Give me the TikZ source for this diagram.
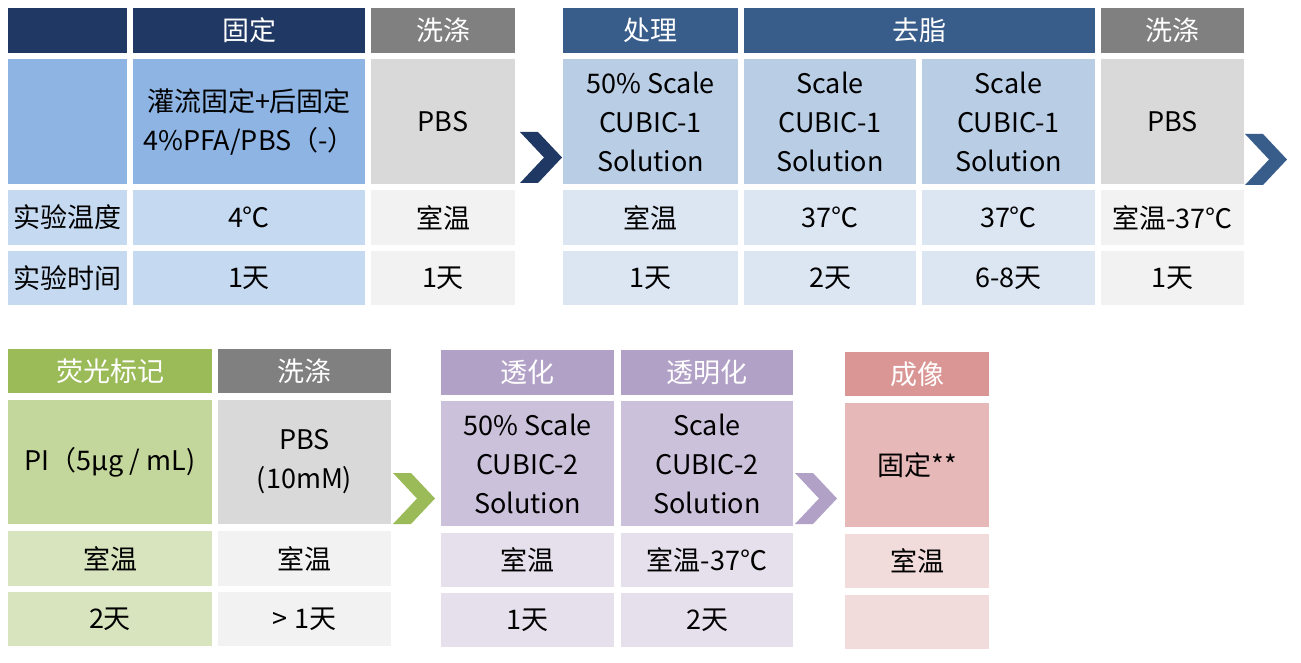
\documentclass[tikz,border=0pt]{standalone}
\usepackage{fontspec}
\setmainfont{Noto Sans CJK SC}
\definecolor{navy}{HTML}{1F3864}
\definecolor{hgray}{HTML}{808080}
\definecolor{bmid}{HTML}{8EB4E3}
\definecolor{blight}{HTML}{C5D9F1}
\definecolor{gmid}{HTML}{D9D9D9}
\definecolor{glight}{HTML}{F2F2F2}
\definecolor{steel}{HTML}{385D8A}
\definecolor{smid}{HTML}{B9CDE5}
\definecolor{slight}{HTML}{DCE6F2}
\definecolor{green}{HTML}{9BBB59}
\definecolor{grmid}{HTML}{C3D69B}
\definecolor{grlight}{HTML}{D7E4BD}
\definecolor{purp}{HTML}{B2A1C7}
\definecolor{pmid}{HTML}{CCC1DA}
\definecolor{plight}{HTML}{E6E0EC}
\definecolor{pink}{HTML}{D99694}
\definecolor{pkmid}{HTML}{E6B9B8}
\definecolor{pklight}{HTML}{F2DCDB}
\newcommand\mkcell[8]{\node[#7,fill=#6,minimum width={#4-#2},minimum height={#5-#3}] (#1) at ({(#2+#4)/2},{(#3+#5)/2}) {#8};}
\newcommand\mkchev[3]{\fill[#3] (#1,#2) -- ({#1+18},#2) -- ({#1+42},{#2+25.5}) -- ({#1+18},{#2+51}) -- (#1,{#2+51}) -- ({#1+24},{#2+25.5}) -- cycle;}
\tikzset{
  cellbox/.style={inner sep=0pt,outer sep=0pt,draw=none,align=center,text=black,font=\fontsize{27}{39}\selectfont},
  headbox/.style={cellbox,text=white}
}
\begin{document}
\begin{tikzpicture}[x=1pt,y=-1pt]
\useasboundingbox[fill=white] (0,0) rectangle (1301,663);
% ---- block 1 ----
\mkcell{h0}{8}{8}{127}{53}{navy}{headbox}{}
\mkcell{h1}{133}{8}{365}{53}{navy}{headbox}{固定}
\mkcell{h2}{371}{8}{515}{53}{hgray}{headbox}{洗涤}
\mkcell{m0}{8}{59}{127}{184}{bmid}{cellbox}{}
\mkcell{m1}{133}{59}{365}{184}{bmid}{cellbox}{灌流固定+后固定\\4\%PFA/PBS（-）}
\mkcell{m2}{371}{59}{515}{184}{gmid}{cellbox}{PBS}
\mkcell{t0}{8}{190}{127}{245}{blight}{cellbox}{实验温度}
\mkcell{t1}{133}{190}{365}{245}{blight}{cellbox}{4℃}
\mkcell{t2}{371}{190}{515}{245}{glight}{cellbox}{室温}
\mkcell{d0}{8}{251}{127}{305}{blight}{cellbox}{实验时间}
\mkcell{d1}{133}{251}{365}{305}{blight}{cellbox}{1天}
\mkcell{d2}{371}{251}{515}{305}{glight}{cellbox}{1天}
\mkchev{520}{132}{navy}
% ---- block 2 ----
\mkcell{h3}{563}{8}{738}{53}{steel}{headbox}{处理}
\mkcell{h4}{744}{8}{1095}{53}{steel}{headbox}{去脂}
\mkcell{h6}{1101}{8}{1244}{53}{hgray}{headbox}{洗涤}
\mkcell{m3}{563}{59}{738}{184}{smid}{cellbox}{50\% Scale\\CUBIC-1\\Solution}
\mkcell{m4}{744}{59}{916}{184}{smid}{cellbox}{Scale\\CUBIC-1\\Solution}
\mkcell{m5}{922}{59}{1095}{184}{smid}{cellbox}{Scale\\CUBIC-1\\Solution}
\mkcell{m6}{1101}{59}{1244}{184}{gmid}{cellbox}{PBS}
\mkcell{t3}{563}{190}{738}{245}{slight}{cellbox}{室温}
\mkcell{t4}{744}{190}{916}{245}{slight}{cellbox}{37℃}
\mkcell{t5}{922}{190}{1095}{245}{slight}{cellbox}{37℃}
\mkcell{t6}{1101}{190}{1244}{245}{glight}{cellbox}{室温-37℃}
\mkcell{d3}{563}{251}{738}{305}{slight}{cellbox}{1天}
\mkcell{d4}{744}{251}{916}{305}{slight}{cellbox}{2天}
\mkcell{d5}{922}{251}{1095}{305}{slight}{cellbox}{6-8天}
\mkcell{d6}{1101}{251}{1244}{305}{glight}{cellbox}{1天}
\mkchev{1245}{134}{steel}
% ---- block 3 ----
\mkcell{h7}{8}{349}{212}{393}{green}{headbox}{荧光标记}
\mkcell{h8}{218}{349}{391}{393}{hgray}{headbox}{洗涤}
\mkcell{m7}{8}{400}{212}{524}{grmid}{cellbox}{PI（5μg / mL)}
\mkcell{m8}{218}{400}{391}{524}{gmid}{cellbox}{PBS\\(10mM)}
\mkcell{t7}{8}{531}{212}{586}{grlight}{cellbox}{室温}
\mkcell{t8}{218}{531}{391}{586}{glight}{cellbox}{室温}
\mkcell{d7}{8}{592}{212}{646}{grlight}{cellbox}{2天}
\mkcell{d8}{218}{592}{391}{646}{glight}{cellbox}{> 1天}
\mkchev{393}{473}{green}
% ---- block 4 ----
\mkcell{h9}{441}{350}{614}{395}{purp}{headbox}{透化}
\mkcell{h10}{621}{350}{793}{395}{purp}{headbox}{透明化}
\mkcell{m9}{441}{401}{614}{526}{pmid}{cellbox}{50\% Scale\\CUBIC-2\\Solution}
\mkcell{m10}{621}{401}{793}{526}{pmid}{cellbox}{Scale\\CUBIC-2\\Solution}
\mkcell{t9}{441}{533}{614}{587}{plight}{cellbox}{室温}
\mkcell{t10}{621}{533}{793}{587}{plight}{cellbox}{室温-37℃}
\mkcell{d9}{441}{593}{614}{647}{plight}{cellbox}{1天}
\mkcell{d10}{621}{593}{793}{647}{plight}{cellbox}{2天}
\mkchev{795}{473}{purp}
% ---- block 5 ----
\mkcell{h11}{845}{352}{989}{396}{pink}{headbox}{成像}
\mkcell{m11}{845}{403}{989}{527}{pkmid}{cellbox}{固定**}
\mkcell{t11}{845}{534}{989}{588}{pklight}{cellbox}{室温}
\mkcell{d11}{845}{595}{989}{649}{pklight}{cellbox}{}
\end{tikzpicture}
\end{document}
